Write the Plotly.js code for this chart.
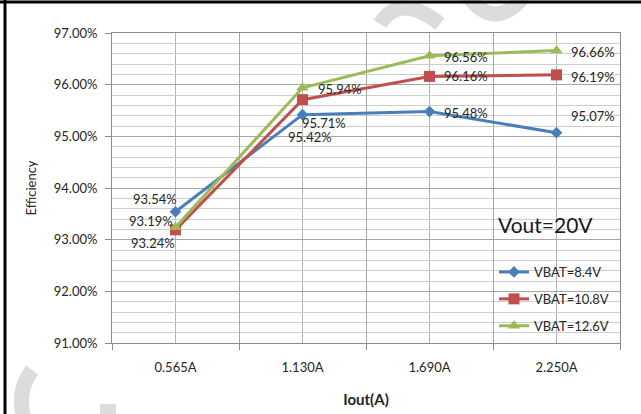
<!DOCTYPE html>
<html>
<head>
<meta charset="utf-8">
<script src="https://cdn.plot.ly/plotly-3.0.1.min.js"></script>
<style>html,body{margin:0;padding:0;background:#fff;}#chart{width:641px;height:414px;}</style>
</head>
<body>
<div id="chart"></div>
<script>
const categories = ['0.565A', '1.130A', '1.690A', '2.250A'];
const seriesNames = ['VBAT=8.4V', 'VBAT=10.8V', 'VBAT=12.6V'];
const vbat84 = [93.54, 95.42, 95.48, 95.07];
const vbat108 = [93.19, 95.71, 96.16, 96.19];
const vbat126 = [93.24, 95.94, 96.56, 96.66];
const yTicks = [91, 92, 93, 94, 95, 96, 97];
const yTickText = yTicks.map(v => v.toFixed(2) + '%');

// data-label offsets (pixels: [dx, dy-up]) per point
const off84 = [[-21, 13], [7, -22], [36, -1], [36, 17]];
const off108 = [[-25, 9], [21, -23], [36, 0], [36, -2]];
const off126 = [[-23, -16], [37, -1], [36, -1], [36, -1]];

const FONT = 'Lato, "Open Sans", sans-serif';
const TXT = '#262626';

function mk(name, y, color, symbol, size, group) {
  return {
    type: 'scatter', mode: 'lines+markers', name: name,
    x: categories, y: y,
    line: {color: color, width: 3},
    marker: {color: color, symbol: symbol, size: size},
    legendgroup: group, cliponaxis: false, hoverinfo: 'x+y'
  };
}

const data = [
  mk(seriesNames[0], vbat84, '#4a7ebb', 'diamond', 9, 'a'),
  mk(seriesNames[1], vbat108, '#c0504d', 'square', 11, 'b'),
  mk(seriesNames[2], vbat126, '#9bbb59', 'triangle-up', 11, 'c')
];

const annotations = [];
[[vbat84, off84], [vbat108, off108], [vbat126, off126]].forEach(([vals, offs]) => {
  vals.forEach((v, i) => annotations.push({
    x: categories[i], y: v, xref: 'x', yref: 'y', text: v.toFixed(2) + '%', showarrow: false,
    xanchor: 'center', yanchor: 'middle', xshift: offs[i][0], yshift: offs[i][1],
    font: {family: FONT, size: 13, color: TXT}
  }));
});

// plot area in pixels (for decorative page elements)
const L = 112, R = 620, T = 33, B = 343;
const px = x => (x - L) / (R - L);
const py = y => (B - y) / (B - T);

annotations.push({
  xref: 'paper', yref: 'paper', x: px(496), y: py(224), xanchor: 'left', yanchor: 'middle',
  text: 'Vout=20V', showarrow: false, font: {family: FONT, size: 21, color: '#1a1a1a'}
});

const shapes = [];
categories.forEach(c => shapes.push({type: 'line', xref: 'x', yref: 'paper', x0: c, x1: c, y0: 0, y1: 1, layer: 'below', line: {color: '#b4b4b4', width: 1}}));
const wm = {color: '#dcdcdc', width: 15};
shapes.push({type: 'path', xref: 'paper', yref: 'paper', layer: 'below', line: wm,
  path: `M ${px(380)},${py(24)} Q ${px(400)},${py(-8)} ${px(440)},${py(24)}`});
shapes.push({type: 'path', xref: 'paper', yref: 'paper', layer: 'below', line: wm,
  path: `M ${px(468)},${py(-4)} Q ${px(495)},${py(32)} ${px(524)},${py(-4)}`});
shapes.push({type: 'path', xref: 'paper', yref: 'paper', layer: 'below', line: wm,
  path: `M ${px(32)},${py(370)} Q ${px(16)},${py(392)} ${px(24)},${py(418)}`});
shapes.push({type: 'rect', xref: 'paper', yref: 'paper', layer: 'below', line: {width: 0}, fillcolor: '#dcdcdc',
  x0: px(100), x1: px(116), y0: py(414), y1: py(404)});
shapes.push({type: 'line', xref: 'paper', yref: 'paper', x0: px(0), x1: px(641), y0: py(2), y1: py(2), line: {color: '#000', width: 3}});
shapes.push({type: 'line', xref: 'paper', yref: 'paper', x0: px(5), x1: px(5), y0: py(0), y1: py(414), line: {color: '#000', width: 3}});

const layout = {
  width: 641, height: 414,
  margin: {l: L, r: 641 - R, t: T, b: 414 - B},
  paper_bgcolor: '#fff', plot_bgcolor: 'rgba(0,0,0,0)',
  font: {family: FONT, size: 13, color: TXT},
  showlegend: true,
  legend: {x: px(494), y: py(257), xanchor: 'left', yanchor: 'top', bgcolor: 'rgba(0,0,0,0)',
    font: {family: FONT, size: 13, color: TXT}, tracegroupgap: 7, itemwidth: 30},
  xaxis: {
    type: 'category', range: [-0.5, categories.length - 0.5], autorange: false,
    tickson: 'boundaries', ticks: 'outside', ticklen: 6, tickcolor: '#8c8c8c',
    showgrid: true, gridcolor: '#a6a6a6', showline: true, linecolor: '#8c8c8c', mirror: true,
    ticklabelstandoff: 12, tickfont: {family: FONT, size: 13, color: TXT},
    title: {text: '<b>Iout(A)</b>', font: {family: FONT, size: 15, color: TXT}, standoff: 20},
    zeroline: false
  },
  yaxis: {
    range: [91, 97], tickvals: yTicks, ticktext: yTickText, ticks: 'outside', ticklen: 6, tickcolor: '#8c8c8c',
    showgrid: true, gridcolor: '#a6a6a6', showline: true, linecolor: '#8c8c8c', mirror: true,
    minor: {dtick: 0.2, showgrid: true, gridcolor: '#cdcdcd', ticks: ''},
    ticklabelstandoff: 5, tickfont: {family: FONT, size: 13, color: TXT}, zeroline: false,
    title: {text: 'Efficiency', font: {family: FONT, size: 13, color: TXT}, standoff: 14}
  },
  annotations: annotations,
  shapes: shapes
};

Plotly.newPlot('chart', data, layout, {displayModeBar: false, staticPlot: true});
</script>
</body>
</html>
